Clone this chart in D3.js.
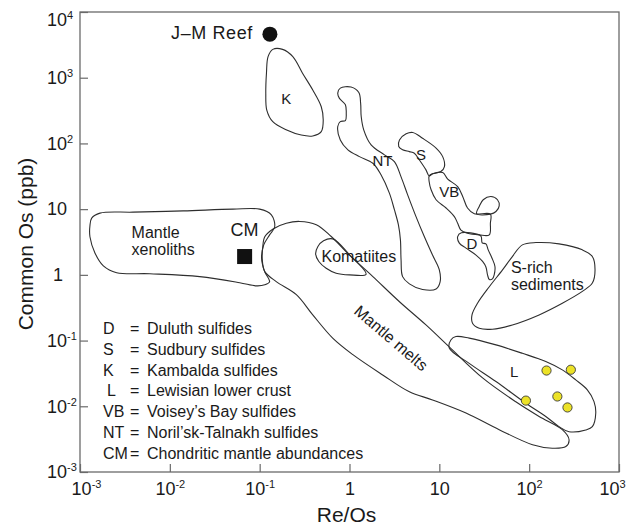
<!DOCTYPE html>
<html>
<head>
<meta charset="utf-8">
<script src="https://cdn.jsdelivr.net/npm/d3@7"></script>
<style>
  body { margin: 0; background: #fff; }
  svg { display: block; font-family: "Liberation Sans", Arial, sans-serif; }
</style>
</head>
<body>
<script>
// axis decades
const xTicks = [1e-3, 1e-2, 1e-1, 1, 10, 1e2, 1e3];
const yTicks = [1e-3, 1e-2, 1e-1, 1, 10, 1e2, 1e3, 1e4];

// field outlines as [Re/Os, common Os (ppb)]
const mantleXenoliths = [[0.00135,7.3],[0.00167,8.7],[0.0039,9.0],[0.0141,9.4],[0.0505,10],[0.1,10],[0.135,8.2],[0.147,5.4],[0.129,4.06],[0.111,2.86],[0.105,1.81],[0.114,1.11],[0.129,0.79],[0.114,0.705],[0.092,0.68],[0.060,0.76],[0.0215,0.94],[0.006,1.04],[0.00256,1.08],[0.00182,1.37],[0.00147,2.14],[0.00129,3.8],[0.00129,5.6]];
const kambalda = [[0.14,2700],[0.18,2700],[0.234,2090],[0.30,1170],[0.39,650],[0.485,362],[0.51,227],[0.485,151],[0.39,130],[0.29,134],[0.20,160],[0.14,214],[0.12,322],[0.117,580],[0.119,1170],[0.124,2090]];
const norilsk = [[0.79,695],[1.04,720],[1.27,595],[1.33,410],[1.35,257],[1.44,161],[1.74,95],[2.45,67],[3.16,53],[3.75,31],[4.44,16.5],[5.5,7.7],[6.8,3.83],[8.4,2.0],[10,1.19],[10.2,0.78],[9.2,0.61],[6.5,0.60],[4.64,0.73],[3.9,0.94],[3.75,1.69],[3.69,3.4],[3.5,5.8],[3.16,9.8],[2.78,17.5],[2.25,33],[1.82,50],[1.29,63],[0.96,80],[0.79,113],[0.74,181],[0.79,215],[0.90,223],[0.92,289],[0.90,387],[0.77,489],[0.74,583]];
const sudbury = [[3.6,113],[4.27,140],[5.05,147],[6.5,120],[9.2,85],[10.9,63],[11.4,44.5],[10.4,37.4],[8.4,34.5],[7.7,32],[7.1,39.6],[6.0,56],[5.27,71],[4.64,75],[3.9,80],[3.53,90]];
const voiseysBay = [[7.7,32],[8.4,34.5],[10.9,36],[12.4,28.6],[16,22],[18.2,15.6],[20.6,10.4],[24.5,8.5],[37,8.4],[37,6.1],[36,4.06],[27.8,4.06],[20.6,4.3],[17.4,4.8],[16,6.1],[14.7,7.7],[11.9,10.4],[9.2,13.9],[8.1,19.7],[7.7,26.3]];
const voiseysBayLobe = [[26,8.5],[27.8,11],[30.8,13.9],[37.5,15.6],[44.4,13.9],[46.4,11.2],[42.7,9.2],[37,8.4]];
const duluth = [[16,3.83],[17.6,4.36],[27.8,4.06],[29.3,3.8],[30,3.07],[33,2.96],[35,2.4],[38.5,1.81],[41.6,1.34],[40.8,1.0],[39,0.87],[36,0.85],[34.4,1.0],[33,1.32],[30.3,1.6],[25.6,2.0],[19.8,2.55],[16.7,3.04]];
const komatiites = [[0.42,2.07],[0.445,2.7],[0.514,3.3],[0.65,3.53],[1.0,2.02],[1.53,1.02],[1.0,1.0],[0.71,1.06],[0.55,1.26],[0.456,1.6]];
const mantleMelts = [[0.108,2.58],[0.114,3.79],[0.141,5.0],[0.198,6.1],[0.278,6.5],[0.427,5.8],[0.626,3.83],[1.0,2.0],[1.82,0.94],[3.6,0.39],[7.1,0.173],[12.9,0.080],[30.3,0.027],[71,0.0117],[129,0.0070],[234,0.0044],[278,0.0031],[256,0.00244],[181,0.0023],[109,0.0026],[46.4,0.0044],[19.8,0.0079],[8.4,0.0125],[4.64,0.0166],[2.34,0.030],[1.09,0.061],[0.65,0.109],[0.39,0.246],[0.256,0.50],[0.153,0.79],[0.114,1.12],[0.107,1.69]];
const lewisian = [[13.5,0.103],[15.3,0.115],[21.5,0.109],[42.7,0.086],[84,0.064],[153,0.048],[234,0.0358],[330,0.0252],[444,0.0178],[527,0.0118],[551,0.00785],[505,0.0049],[427,0.00437],[278,0.0041],[215,0.0049],[153,0.0070],[92,0.0111],[42.7,0.0238],[21.5,0.045],[12.9,0.077]];
const sRichSediments = [[84,2.86],[119,3.1],[215,2.96],[391,2.4],[505,1.9],[541,1.19],[505,0.75],[391,0.56],[234,0.37],[129,0.246],[65,0.173],[39,0.149],[27.8,0.154],[23.4,0.184],[23.1,0.246],[26.6,0.37],[36,0.66],[50.5,1.19],[65,1.9]];

// points
const jmReef = [[0.13, 4600]];
const chondriticMantle = [[0.068, 1.9]];
const lewisianSamples = [[156,0.035],[291,0.036],[92,0.0122],[206,0.0141],[267,0.0096]];

// field names and where they sit
const fieldNames = ["K", "NT", "S", "VB", "D", "L", "Komatiites"];
const fieldNameAt = [[0.198,474],[2.33,54],[6.26,67],[12.9,18.5],[23,3.0],[68,0.034],[1.27,1.9]];
const blockNames = [["Mantle", "xenoliths"], ["S-rich", "sediments"]];
const blockNameAt = [[0.00375,3.62],[62.6,1.06]];
const meltsName = "Mantle melts";
const meltsNameAt = [2.91, 0.109];

// legend
const legendAbbr = ["D", "S", "K", "L", "VB", "NT", "CM"];
const legendName = ["Duluth sulfides", "Sudbury sulfides", "Kambalda sulfides", "Lewisian lower crust",
  "Voisey\u2019s Bay sulfides", "Noril\u2019sk-Talnakh sulfides", "Chondritic mantle abundances"];

const width = 635, height = 528;
const margin = {top: 12, right: 16, bottom: 56, left: 80};
const ink = "#1a1a1a";

const svg = d3.select("body").append("svg")
    .attr("width", width)
    .attr("height", height);

const x = d3.scaleLog().domain([1e-3, 1e3]).range([margin.left, width - margin.right]);
const y = d3.scaleLog().domain([1e-3, 1e4]).range([height - margin.bottom, margin.top]);

// superscript tick labels: 10^n
function powerLabel(text, v) {
  const e = Math.round(Math.log10(v));
  if (e === 0) { text.text("1"); return; }
  text.append("tspan").text("10");
  if (e !== 1) text.append("tspan").attr("dy", -7).attr("font-size", 11).text(e);
}

// frame
svg.append("rect")
    .attr("x", x.range()[0])
    .attr("y", y.range()[1])
    .attr("width", x.range()[1] - x.range()[0])
    .attr("height", y.range()[0] - y.range()[1])
    .attr("fill", "none")
    .attr("stroke", "#6a6a6a")
    .attr("stroke-width", 1.3);

const gx = svg.append("g")
    .attr("transform", `translate(0,${y.range()[0]})`)
    .call(d3.axisBottom(x).tickValues(xTicks).tickSizeInner(-8).tickSizeOuter(0).tickPadding(10).tickFormat(""));
gx.attr("font-family", null).attr("font-size", 18);
gx.select(".domain").remove();
gx.selectAll(".tick line").attr("stroke", "#6a6a6a").attr("stroke-width", 1.2);
gx.selectAll(".tick text").attr("fill", ink).each(function(d) { powerLabel(d3.select(this), d); });
gx.selectAll(".tick text").filter(d => d === 1e-3).attr("x", 6);
gx.selectAll(".tick text").filter(d => d === 1e3).attr("x", -7);

const gy = svg.append("g")
    .attr("transform", `translate(${x.range()[0]},0)`)
    .call(d3.axisLeft(y).tickValues(yTicks).tickSizeInner(-8).tickSizeOuter(0).tickFormat(""));
gy.attr("font-family", null).attr("font-size", 18);
gy.select(".domain").remove();
gy.selectAll(".tick line").attr("stroke", "#6a6a6a").attr("stroke-width", 1.2);
gy.selectAll(".tick text")
    .attr("fill", ink)
    .attr("text-anchor", "start")
    .attr("x", d => d === 1 ? -27 : -33)
    .each(function(d) { powerLabel(d3.select(this), d); });
gy.selectAll(".tick text").filter(d => d === 1e4).attr("y", 7.5);

// axis titles
svg.append("text")
    .attr("x", (x.range()[0] + x.range()[1]) / 2 - 3)
    .attr("y", 522)
    .attr("text-anchor", "middle")
    .attr("font-size", 21)
    .attr("fill", ink)
    .text("Re/Os");

svg.append("text")
    .attr("transform", `translate(33,${(y.range()[0] + y.range()[1]) / 2 + 2}) rotate(-90)`)
    .attr("text-anchor", "middle")
    .attr("font-size", 21)
    .attr("fill", ink)
    .text("Common Os (ppb)");

// field outlines
const outline = d3.line()
    .x(d => x(d[0]))
    .y(d => y(d[1]))
    .curve(d3.curveCatmullRomClosed.alpha(0.5));

const fields = [mantleXenoliths, mantleMelts, komatiites, kambalda, norilsk, sudbury,
  voiseysBay, voiseysBayLobe, duluth, sRichSediments, lewisian];

svg.append("g")
  .selectAll("path")
  .data(fields)
  .join("path")
    .attr("d", outline)
    .attr("fill", "none")
    .attr("stroke", "#2e2e2e")
    .attr("stroke-width", 1.1)
    .attr("stroke-linejoin", "round");

// field names
svg.append("g")
    .attr("font-size", 15)
    .attr("fill", ink)
    .attr("text-anchor", "middle")
  .selectAll("text")
  .data(fieldNames)
  .join("text")
    .attr("x", (d, i) => x(fieldNameAt[i][0]))
    .attr("y", (d, i) => y(fieldNameAt[i][1]))
    .attr("dy", "0.35em")
    .attr("font-size", d => d.length > 2 ? 16 : 15)
    .text(d => d);

svg.append("g")
    .attr("font-size", 16)
    .attr("fill", ink)
  .selectAll("text")
  .data(blockNames)
  .join("text")
    .attr("x", (d, i) => x(blockNameAt[i][0]))
    .attr("y", (d, i) => y(blockNameAt[i][1]))
    .each(function(lines, i) {
      d3.select(this).selectAll("tspan")
        .data(lines)
        .join("tspan")
          .attr("x", x(blockNameAt[i][0]))
          .attr("dy", (l, j) => j ? 16.7 : 0)
          .text(l => l);
    });

svg.append("text")
    .attr("transform", `translate(${x(meltsNameAt[0])},${y(meltsNameAt[1])}) rotate(40.6)`)
    .attr("text-anchor", "middle")
    .attr("dy", "0.35em")
    .attr("font-size", 16)
    .attr("fill", ink)
    .text(meltsName);

// J-M Reef
svg.append("g")
  .selectAll("circle")
  .data(jmReef)
  .join("circle")
    .attr("cx", d => x(d[0]))
    .attr("cy", d => y(d[1]))
    .attr("r", 7.5)
    .attr("fill", "#111");

svg.append("text")
    .attr("x", x(jmReef[0][0]) - 17)
    .attr("y", y(jmReef[0][1]) + 5)
    .attr("text-anchor", "end")
    .attr("font-size", 18)
    .attr("letter-spacing", 0.6)
    .attr("fill", ink)
    .text("J\u2013M Reef");

// chondritic mantle
svg.append("g")
  .selectAll("rect")
  .data(chondriticMantle)
  .join("rect")
    .attr("x", d => x(d[0]) - 7.5)
    .attr("y", d => y(d[1]) - 7.5)
    .attr("width", 15)
    .attr("height", 15)
    .attr("fill", "#111");

svg.append("text")
    .attr("x", x(chondriticMantle[0][0]))
    .attr("y", y(chondriticMantle[0][1]) - 21)
    .attr("text-anchor", "middle")
    .attr("font-size", 18)
    .attr("fill", ink)
    .text("CM");

// Lewisian samples
svg.append("g")
  .selectAll("circle")
  .data(lewisianSamples)
  .join("circle")
    .attr("cx", d => x(d[0]))
    .attr("cy", d => y(d[1]))
    .attr("r", 4.6)
    .attr("fill", "#ece227")
    .attr("stroke", "#3a3a3a")
    .attr("stroke-width", 0.9);

// legend
const legend = svg.append("g")
    .attr("font-size", 16)
    .attr("fill", ink)
  .selectAll("g")
  .data(legendAbbr)
  .join("g")
    .attr("transform", (d, i) => `translate(0,${334 + i * 20.8})`);

legend.append("text")
    .attr("x", d => d === "L" ? 107 : 103)
    .text(d => d);
legend.append("text")
    .attr("x", 130)
    .text("=");
legend.append("text")
    .attr("x", 147)
    .text((d, i) => legendName[i]);
</script>
</body>
</html>
